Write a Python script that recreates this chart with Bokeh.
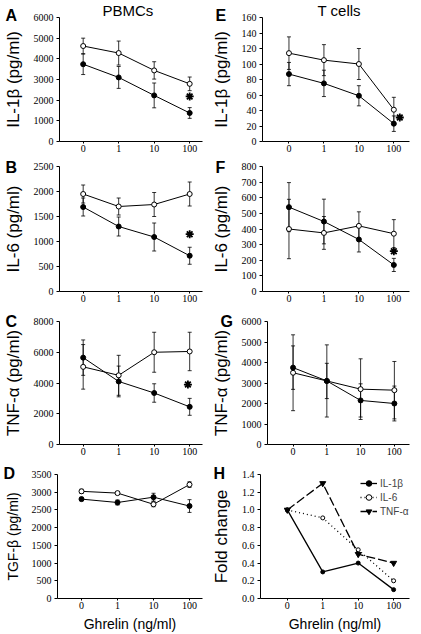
from bokeh.plotting import figure
from bokeh.layouts import column, row
from bokeh.models import (ColumnDataSource, Whisker, TeeHead, Title, FixedTicker,
                          NumeralTickFormatter, Legend, LegendItem, Range1d)
from bokeh.embed import file_html
from bokeh.resources import INLINE

# ---------------- data ----------------
doses = ["0", "1", "10", "100"]

# A: IL-1beta, PBMCs (open = control, filled = ghrelin-treated)
a_open = [4620, 4280, 3440, 2790]
a_open_err = [380, 580, 420, 330]
a_fill = [3740, 3100, 2230, 1380]
a_fill_err = [500, 530, 600, 260]
a_star = [2180]

# B: IL-6, PBMCs
b_open = [1950, 1700, 1740, 1950]
b_open_err = [180, 170, 240, 240]
b_fill = [1690, 1300, 1090, 715]
b_fill_err = [180, 190, 280, 170]
b_star = [1146]

# C: TNF-alpha, PBMCs
c_open = [5050, 4500, 6000, 6050]
c_open_err = [1450, 1300, 1300, 1250]
c_fill = [5650, 4100, 3350, 2450]
c_fill_err = [1150, 1000, 600, 550]
c_star = [3900]

# D: TGF-beta, PBMCs
d_open = [3025, 2975, 2660, 3215]
d_open_err = [60, 40, 70, 80]
d_fill = [2805, 2710, 2860, 2610]
d_fill_err = [50, 70, 110, 180]

# E: IL-1beta, T cells
e_open = [114, 105, 100, 41]
e_open_err = [21, 20, 20, 16]
e_fill = [87, 75, 59, 23]
e_fill_err = [15, 17, 13, 10]
e_star = [31]

# F: IL-6, T cells
f_open = [400, 375, 420, 370]
f_open_err = [190, 105, 90, 90]
f_fill = [540, 448, 333, 170]
f_fill_err = [157, 143, 80, 42]
f_star = [258]

# G: TNF-alpha, T cells
g_open = [3500, 3100, 2700, 2650]
g_open_err = [1850, 1760, 1480, 1400]
g_fill = [3750, 3100, 2150, 2000]
g_fill_err = [1060, 860, 810, 850]

# H: fold change, T cells
h_il1b = [1.0, 0.3, 0.4, 0.1]
h_il6 = [1.0, 0.91, 0.55, 0.2]
h_tnfa = [1.0, 1.3, 0.5, 0.4]

xs = list(range(len(doses)))

SANS = "Liberation Sans"
SERIF = "Liberation Serif"


def make_panel(width, height, bl, br, bt, bb, xr, ymax, ystep, ylabel, ylsize,
               letter, letter_dx, letter_so, xlabel=None, fmt=None):
    p = figure(width=width, height=height, x_range=Range1d(*xr), y_range=Range1d(0, ymax),
               output_backend="svg", toolbar_location=None, min_border=0,
               min_border_left=bl, min_border_right=br, min_border_top=bt,
               min_border_bottom=bb)
    p.outline_line_color = None
    p.grid.visible = False
    p.background_fill_color = "white"
    p.border_fill_color = "white"

    p.xaxis.ticker = FixedTicker(ticks=xs)
    p.xaxis.major_label_overrides = {i: d for i, d in zip(xs, doses)}
    p.xaxis.major_tick_out = 2
    p.xaxis.major_tick_in = 0
    p.xaxis.minor_tick_line_color = None
    p.xaxis.major_label_text_font = SERIF
    p.xaxis.major_label_text_font_size = "10px"
    p.xaxis.major_label_standoff = 1
    if xlabel:
        p.xaxis.axis_label = xlabel
        p.xaxis.axis_label_text_font = SANS
        p.xaxis.axis_label_text_font_size = "14px"
        p.xaxis.axis_label_text_font_style = "normal"
        p.xaxis.axis_label_standoff = 4

    nt = int(round(ymax / ystep))
    p.yaxis.ticker = FixedTicker(ticks=[round(ystep * i, 6) for i in range(nt + 1)])
    p.yaxis.major_tick_out = 3
    p.yaxis.major_tick_in = 0
    p.yaxis.minor_tick_line_color = None
    p.yaxis.major_label_text_font = SERIF
    p.yaxis.major_label_text_font_size = "10px"
    p.yaxis.major_label_standoff = 3
    if fmt:
        p.yaxis.formatter = NumeralTickFormatter(format=fmt)
    p.yaxis.axis_label = ylabel
    p.yaxis.axis_label_text_font = SANS
    p.yaxis.axis_label_text_font_size = ylsize
    p.yaxis.axis_label_text_font_style = "normal"
    p.yaxis.axis_label_standoff = 8
    for ax in (p.xaxis, p.yaxis):
        ax.axis_line_color = "black"
        ax.major_tick_line_color = "black"
        ax.major_label_text_color = "black"
        ax.axis_label_text_color = "black"

    # panel letter (inner title, right above / overlapping the frame top)
    p.add_layout(Title(text=letter, align="left", offset=letter_dx, vertical_align="bottom",
                       standoff=letter_so, text_font=SANS, text_font_style="bold",
                       text_font_size="16px", text_color="black"), "above")
    return p


def add_header(p, text, dx, so):
    # stacked outside the letter title
    p.add_layout(Title(text=text, align="left", offset=dx, vertical_align="bottom",
                       standoff=so, text_font=SANS, text_font_style="normal",
                       text_font_size="15px", text_color="black"), "above")


def add_series(p, ys, err, filled):
    src = ColumnDataSource(dict(x=xs, y=ys,
                                lo=[v - e for v, e in zip(ys, err)],
                                hi=[v + e for v, e in zip(ys, err)]))
    p.add_layout(Whisker(source=src, base="x", upper="hi", lower="lo",
                         line_color="black", line_width=0.8,
                         upper_head=TeeHead(size=4, line_color="black", line_width=0.8),
                         lower_head=TeeHead(size=4, line_color="black", line_width=0.8)))
    p.line("x", "y", source=src, line_color="black", line_width=1)
    p.scatter("x", "y", source=src, marker="circle", size=5,
              fill_color="black" if filled else "white", line_color="black", line_width=1)


def add_star(p, yv, xoff=0.0):
    p.scatter(x=[xs[-1] + xoff] * len(yv), y=yv, marker="asterisk", size=8,
              line_color="black", line_width=1.8)


LW, RW = 208, 213
LXR = (-0.667, 3.361)
RXR = (-0.757, 3.448)
LDX, RDX = -54, -47

# Row 1 (0..155), frame top 17
pA = make_panel(LW, 155, 57, 6, 17, 14, LXR, 6000, 1000, "IL-1β (pg/ml)", "17px", "A", LDX, -12)
add_header(pA, "PBMCs", 43, -17.5)
add_series(pA, a_open, a_open_err, False)
add_series(pA, a_fill, a_fill_err, True)
add_star(pA, a_star)

pE = make_panel(RW, 155, 51, 12, 17, 14, RXR, 160, 20, "IL-1β (pg/ml)", "17px", "E", RDX, -12)
add_header(pE, "T cells", 55, -17.5)
add_series(pE, e_open, e_open_err, False)
add_series(pE, e_fill, e_fill_err, True)
add_star(pE, e_star, 0.17)

# Row 2 (155..310), frame top 166
pB = make_panel(LW, 155, 57, 6, 11, 19, LXR, 2500, 500, "IL-6 (pg/ml)", "17px", "B", LDX, -18)
add_series(pB, b_open, b_open_err, False)
add_series(pB, b_fill, b_fill_err, True)
add_star(pB, b_star)

pF = make_panel(RW, 155, 51, 12, 11, 19, RXR, 800, 100, "IL-6 (pg/ml)", "17px", "F", RDX, -18)
add_series(pF, f_open, f_open_err, False)
add_series(pF, f_fill, f_fill_err, True)
add_star(pF, f_star)

# Row 3 (310..461), frame top 321
pC = make_panel(LW, 151, 57, 6, 11, 17, LXR, 8000, 2000, "TNF-α (pg/ml)", "17px", "C", LDX, -17)
add_series(pC, c_open, c_open_err, False)
add_series(pC, c_fill, c_fill_err, True)
add_star(pC, c_star, -0.05)

pG = make_panel(RW, 151, 51, 12, 11, 17, RXR, 6000, 1000, "TNF-α (pg/ml)", "17px", "G", RDX, -17)
add_series(pG, g_open, g_open_err, False)
add_series(pG, g_fill, g_fill_err, True)

# Row 4 (461..634), frame top 474
pD = make_panel(LW, 173, 57, 6, 13, 35, LXR, 3500, 500, "TGF-β (pg/ml)", "14px", "D", LDX, -14,
                xlabel="Ghrelin (ng/ml)")
add_series(pD, d_open, d_open_err, False)
add_series(pD, d_fill, d_fill_err, True)

pH = make_panel(RW, 173, 51, 12, 13, 35, RXR, 1.4, 0.2, "Fold change", "17px", "H", RDX, -14,
                xlabel="Ghrelin (ng/ml)", fmt="0.0")
l1 = pH.line(xs, h_il1b, line_color="black", line_width=1.3)
s1 = pH.scatter(xs, h_il1b, marker="circle", size=4, fill_color="black", line_color="black")
l2 = pH.line(xs, h_il6, line_color="black", line_width=1.3, line_dash="1 3")
s2 = pH.scatter(xs, h_il6, marker="circle", size=4, fill_color="white", line_color="black")
l3 = pH.line(xs, h_tnfa, line_color="black", line_width=1.3, line_dash="9 3")
s3 = pH.scatter(xs, h_tnfa, marker="inverted_triangle", size=6, fill_color="black",
                line_color="black")
legend = Legend(items=[LegendItem(label="IL-1β", renderers=[l1, s1]),
                       LegendItem(label="IL-6", renderers=[l2, s2]),
                       LegendItem(label="TNF-α", renderers=[l3, s3])],
                location=(100, 80), padding=0, margin=0, spacing=0,
                glyph_width=17, glyph_height=14, label_height=14, label_standoff=3,
                border_line_color=None, background_fill_alpha=0,
                label_text_font=SANS, label_text_font_size="10px")
pH.add_layout(legend)

layout = column(row(pA, pE), row(pB, pF), row(pC, pG), row(pD, pH))

with open("out.html", "w") as f:
    f.write(file_html(layout, INLINE))
